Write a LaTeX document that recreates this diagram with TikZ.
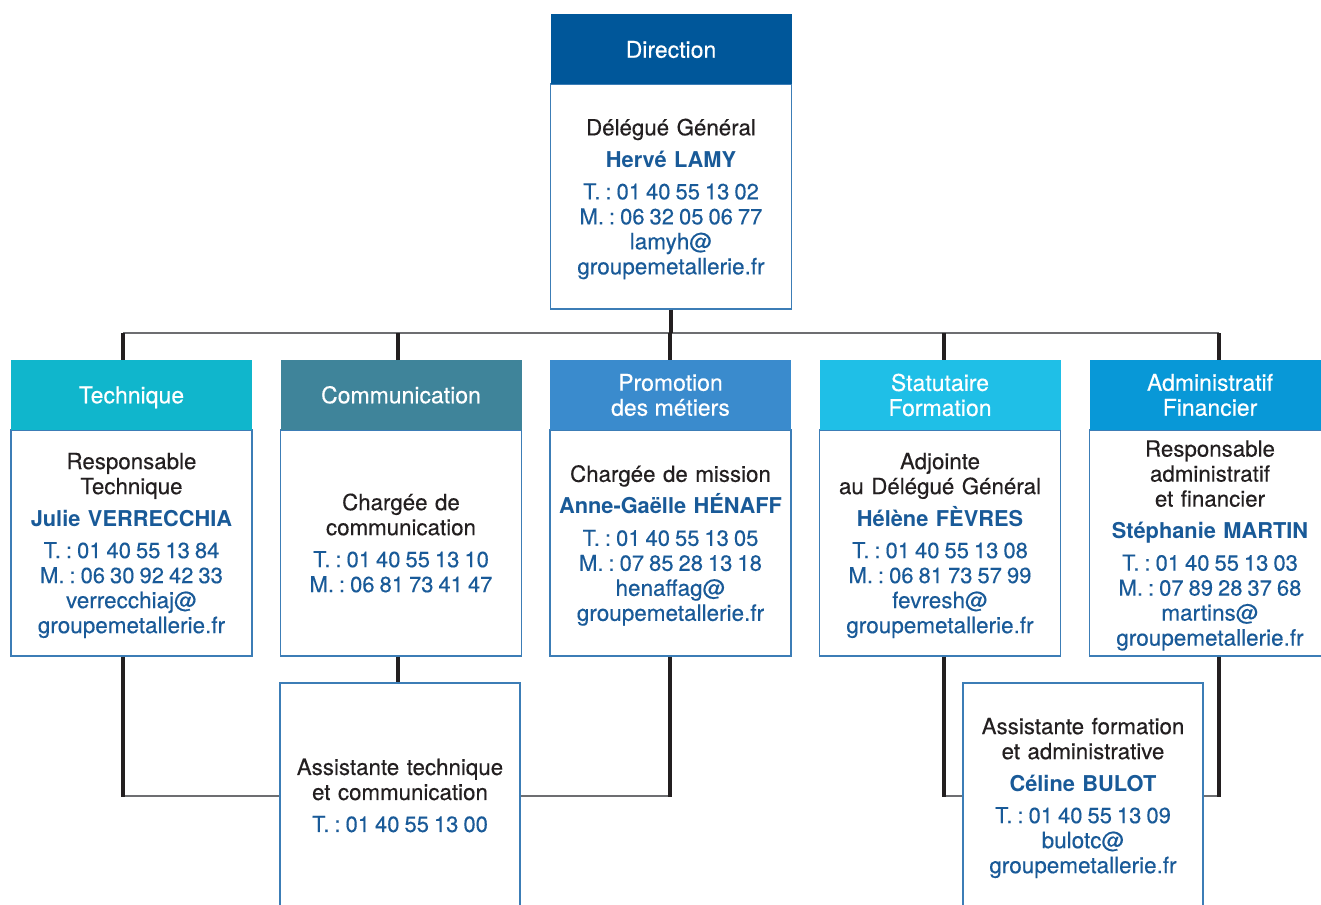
\documentclass[tikz,border=0pt]{standalone}
\usepackage{fontspec}
\setmainfont{TeX Gyre Heros}[UprightFeatures={FakeBold=0.3}]
\definecolor{cDir}{HTML}{00579A}
\definecolor{cTech}{HTML}{10B6CC}
\definecolor{cCom}{HTML}{3F849A}
\definecolor{cPro}{HTML}{3A8BCD}
\definecolor{cSta}{HTML}{1FBFE7}
\definecolor{cAdm}{HTML}{0898D7}
\definecolor{bord}{HTML}{3C7DB6}
\definecolor{tdark}{HTML}{231F20}
\definecolor{tblue}{HTML}{195A98}
\definecolor{lthin}{HTML}{6D6E71}
\newcommand{\bodytext}{\color{tdark}\mdseries\fontsize{22.3}{25}\selectfont}
\newcommand{\nametext}{\color{tblue}\bfseries\fontsize{21.8}{25}\selectfont}
\newcommand{\phonetext}{\color{tblue}\mdseries\fontsize{22}{25}\selectfont}
\newcommand{\mailtext}{\color{tblue}\mdseries\fontsize{22.5}{25}\selectfont}
\newcommand{\phn}[1]{{\spaceskip=5pt\xspaceskip=5pt\relax #1}}
\newcommand{\lastline}[1]{\smash{#1}}
\tikzset{
  headbox/.style={minimum width=241pt, minimum height=70pt, inner sep=0pt, text=white,
    font=\fontsize{23}{25}\selectfont, align=center},
  oneline/.style={text height=17pt, text depth=0.5pt},
  bodybox/.style={draw=bord, line width=1.3pt, fill=white, minimum width=241pt,
    inner sep=0pt, text width=236pt, align=center, font=\fontsize{22.5}{25}\selectfont},
  thickline/.style={draw=tdark, line width=4.5pt},
  thinline/.style={draw=lthin, line width=1.3pt}
}
\begin{document}
\begin{tikzpicture}[x=1pt, y=-1pt]
\useasboundingbox (0,0) rectangle (1321,904);
\fill[white] (0,0) rectangle (1321,904);
\clip (0,0) rectangle (1321,904);

% Direction
\node[bodybox, minimum height=225pt] (dirB) at (671,196.5) {\bodytext Délégué Général\\[7pt] \nametext Hervé LAMY\\[7pt] \phonetext \phn{T. : 01 40 55 13 02}\\ \phn{M. : 06 32 05 06 77}\\ \mailtext lamyh@\\ \lastline{groupemetallerie.fr}};
\node[headbox, oneline, fill=cDir] (dirH) at (671,49.5) {Direction};

% Row 1
\node[bodybox, minimum height=226pt] (techB) at (131.5,543) {\bodytext Responsable\\ Technique\\[7pt] \nametext Julie VERRECCHIA\\[7pt] \phonetext \phn{T. : 01 40 55 13 84}\\ \phn{M. : 06 30 92 42 33}\\ \mailtext verrecchiaj@\\ \lastline{groupemetallerie.fr}};
\node[headbox, oneline, fill=cTech] (techH) at (131.5,395) {Technique};

\node[bodybox, minimum height=226pt] (comB) at (401,543) {\bodytext Chargée de\\ communication\\[7pt] \phonetext \phn{T. : 01 40 55 13 10}\\ \phn{M. : 06 81 73 41 47}};
\node[headbox, oneline, fill=cCom] (comH) at (401,395) {Communication};

\node[bodybox, minimum height=226pt] (proB) at (670.5,543) {\bodytext Chargée de mission\\[7pt] \nametext Anne-Gaëlle HÉNAFF\\[7pt] \phonetext \phn{T. : 01 40 55 13 05}\\ \phn{M. : 07 85 28 13 18}\\ \mailtext henaffag@\\ \lastline{groupemetallerie.fr}};
\node[headbox, fill=cPro] (proH) at (670.5,395) {Promotion\\ des métiers};

\node[bodybox, minimum height=226pt] (staB) at (940,543) {\bodytext Adjointe\\ au Délégué Général\\[7pt] \nametext Hélène FÈVRES\\[7pt] \phonetext \phn{T. : 01 40 55 13 08}\\ \phn{M. : 06 81 73 57 99}\\ \mailtext fevresh@\\ \lastline{groupemetallerie.fr}};
\node[headbox, fill=cSta] (staH) at (940,395) {Statutaire\\ Formation};

\node[bodybox, minimum height=226pt] (admB) at (1210,543) {\bodytext Responsable\\ administratif\\ et financier\\[7pt] \nametext Stéphanie MARTIN\\[7pt] \phonetext \phn{T. : 01 40 55 13 03}\\ \phn{M. : 07 89 28 37 68}\\ \mailtext martins@\\ \lastline{groupemetallerie.fr}};
\node[headbox, fill=cAdm] (admH) at (1210,395) {Administratif\\ Financier};

% Lower boxes
\node[bodybox, minimum width=240pt, minimum height=225pt] (asT) at (400,795.5) {\bodytext Assistante technique\\ et communication\\[7pt] \phonetext \phn{T. : 01 40 55 13 00}};
\node[bodybox, minimum width=240pt, minimum height=225pt] (asF) at (1083,795.5) {\bodytext Assistante formation\\ et administrative\\[7pt] \nametext Céline BULOT\\[7pt] \phonetext \phn{T. : 01 40 55 13 09}\\ \mailtext bulotc@\\ \lastline{groupemetallerie.fr}};

% Connector coordinates
\coordinate (sT) at (123,333);
\coordinate (sC) at (398,333);
\coordinate (sP) at (670,333);
\coordinate (sS) at (944,333);
\coordinate (sA) at (1219,333);
\coordinate (jT) at (123,796);
\coordinate (jP) at (670,796);
\coordinate (jS) at (944,796);
\coordinate (jA) at (1219,796);

% Bus
\draw[thinline] (sT) -- (sA);
\draw[thickline] (dirB.south) -- (dirB.south |- sP);
\foreach \s/\h in {sT/techH, sC/comH, sP/proH, sS/staH, sA/admH}
  \draw[thickline] (\s) -- (\s |- \h.north);

% Lower connections
\draw[thinline] (jT) -- (jT -| asT.west);
\draw[thinline] (jP) -- (jP -| asT.east);
\draw[thinline] (jS) -- (jS -| asF.west);
\draw[thinline] (jA) -- (jA -| asF.east);
\draw[thickline] (sT |- techB.south) -- ([yshift=-0.6pt]jT);
\draw[thickline] (sP |- proB.south) -- ([yshift=-0.6pt]jP);
\draw[thickline] (sS |- staB.south) -- ([yshift=-0.6pt]jS);
\draw[thickline] (sA |- admB.south) -- ([yshift=-0.6pt]jA);
\draw[thickline] (sC |- comB.south) -- (sC |- asT.north);
\end{tikzpicture}
\end{document}
